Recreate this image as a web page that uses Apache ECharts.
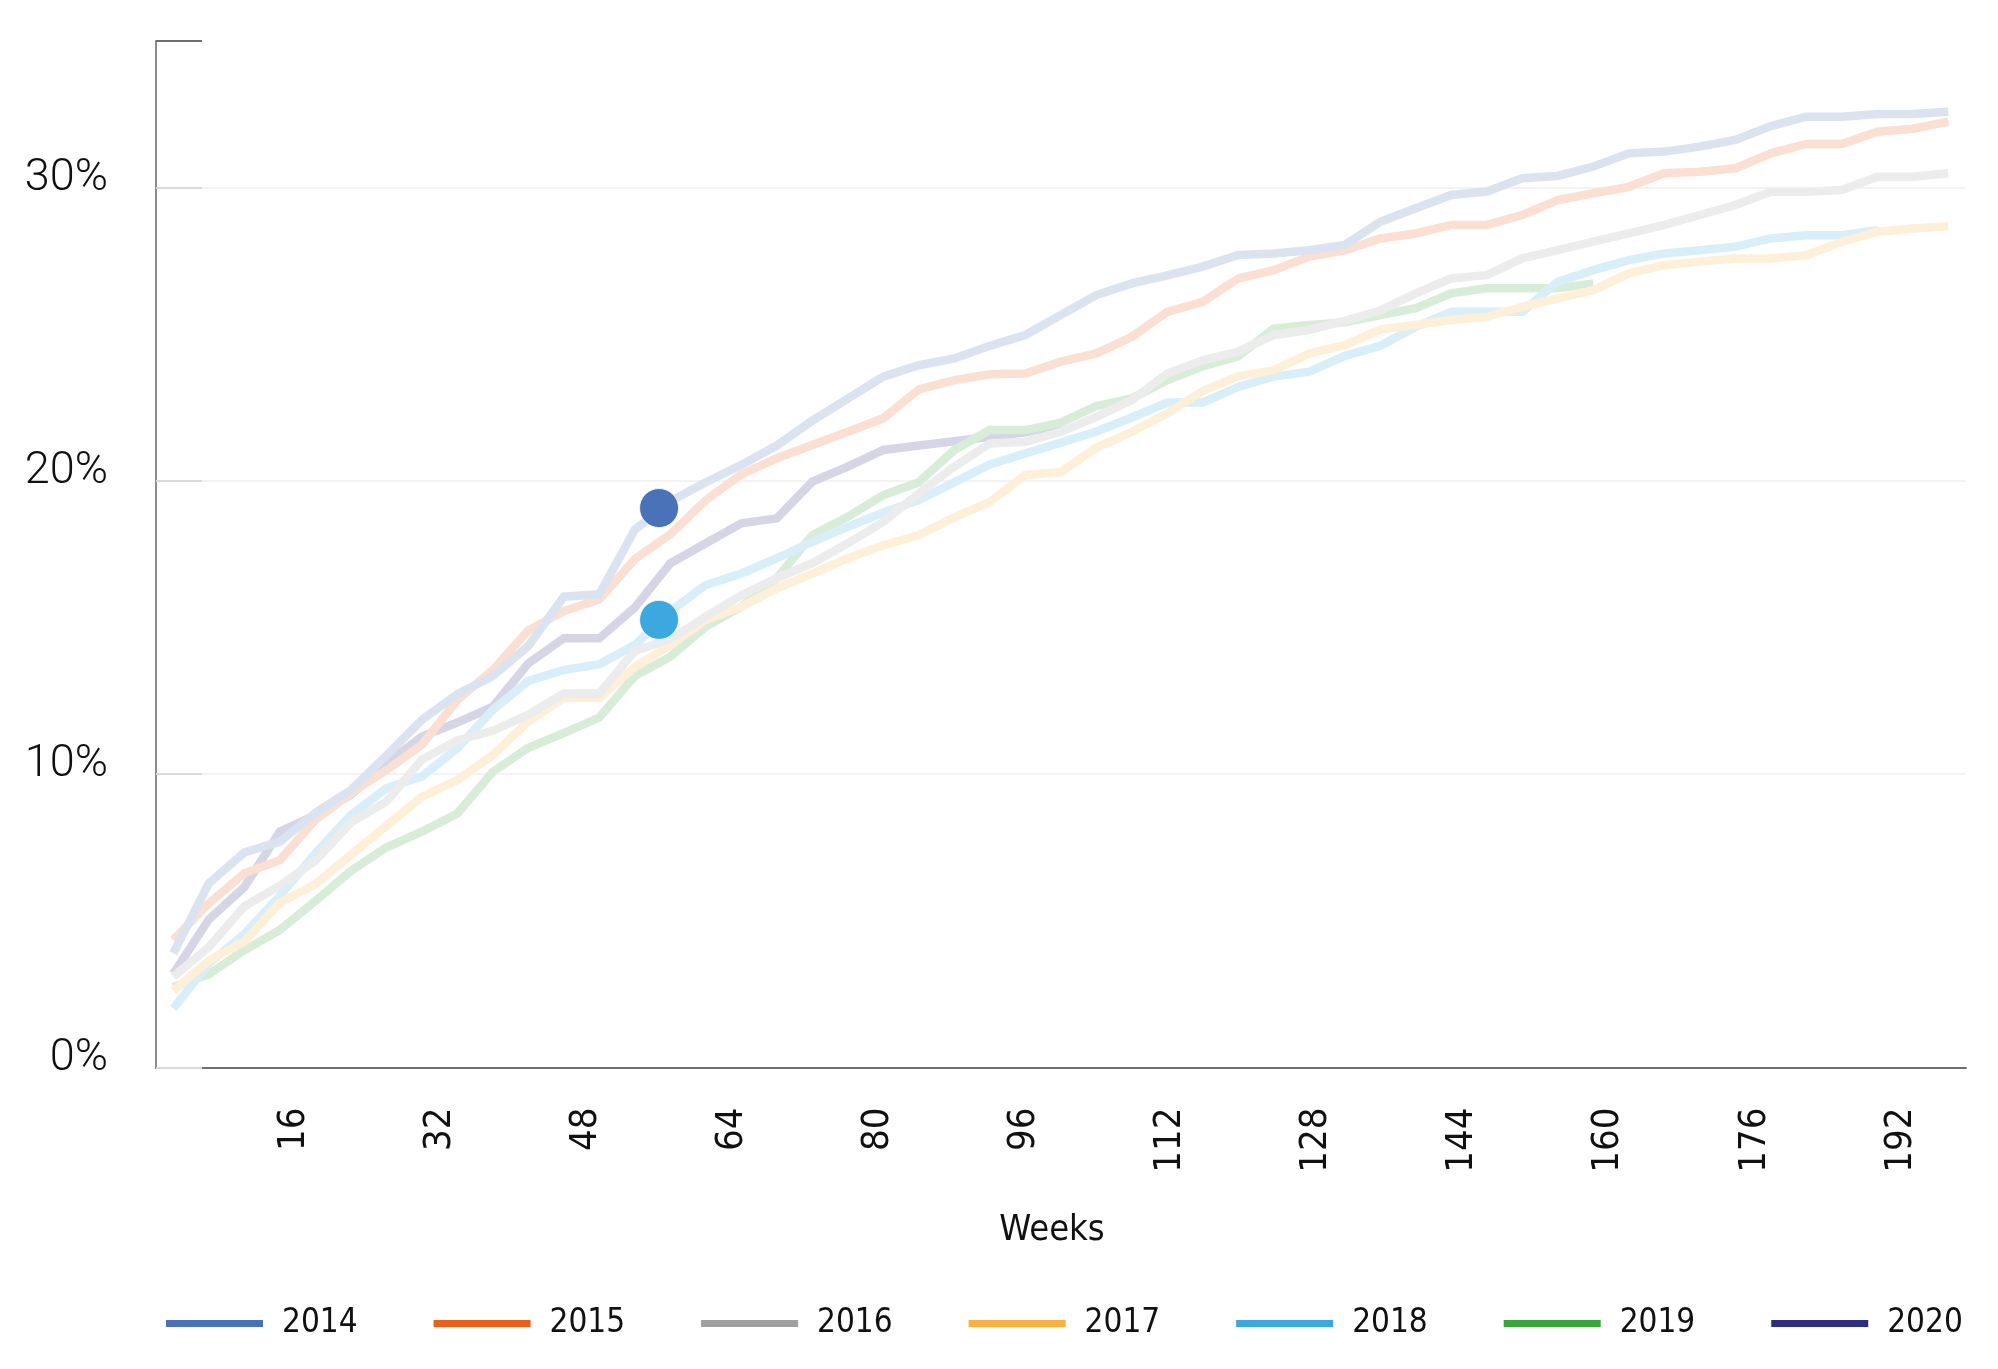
<!DOCTYPE html>
<html>
<head>
<meta charset="utf-8">
<script src="https://cdn.jsdelivr.net/npm/echarts@6/dist/echarts.min.js"></script>
<style>
html,body{margin:0;padding:0;background:#ffffff;}
#chart{width:1998px;height:1369px;}
</style>
</head>
<body>
<div id="chart"></div>
<script>
// ---------- data ----------
const years = ['2014', '2015', '2016', '2017', '2018', '2019', '2020'];
const periods = Array.from({ length: 51 }, (_, i) => String(i + 1));
const weekTicks = [16, 32, 48, 64, 80, 96, 112, 128, 144, 160, 176, 192];
const yTicks = [0, 10, 20, 30];

const s2014 = [3.9, 6.28, 7.33, 7.7, 8.68, 9.46, 10.63, 11.85, 12.73, 13.35, 14.37, 16.05, 16.13, 18.33, 19.3, 19.95, 20.54, 21.2, 22.05, 22.8, 23.55, 23.94, 24.17, 24.6, 24.97, 25.65, 26.33, 26.73, 27.0, 27.3, 27.7, 27.75, 27.86, 28.04, 28.83, 29.29, 29.74, 29.86, 30.31, 30.39, 30.71, 31.16, 31.22, 31.39, 31.62, 32.09, 32.41, 32.41, 32.5, 32.5, 32.58];
const s2015 = [4.35, 5.6, 6.62, 7.07, 8.44, 9.35, 10.14, 11.0, 12.53, 13.55, 14.9, 15.56, 15.96, 17.33, 18.18, 19.34, 20.22, 20.77, 21.22, 21.67, 22.13, 23.12, 23.43, 23.63, 23.66, 24.06, 24.34, 24.91, 25.76, 26.1, 26.9, 27.18, 27.64, 27.85, 28.26, 28.43, 28.72, 28.72, 29.06, 29.57, 29.8, 30.02, 30.48, 30.53, 30.65, 31.16, 31.48, 31.48, 31.9, 32.0, 32.24];
const s2016 = [3.1, 4.1, 5.5, 6.2, 7.05, 8.35, 9.06, 10.5, 11.15, 11.48, 12.03, 12.75, 12.75, 14.2, 14.6, 15.37, 16.1, 16.68, 17.19, 17.87, 18.6, 19.57, 20.48, 21.27, 21.33, 21.67, 22.18, 22.75, 23.66, 24.11, 24.4, 24.97, 25.14, 25.45, 25.8, 26.39, 26.9, 27.01, 27.58, 27.86, 28.15, 28.43, 28.72, 29.06, 29.4, 29.85, 29.85, 29.91, 30.36, 30.36, 30.48];
const s2017 = [2.62, 3.65, 4.3, 5.62, 6.25, 7.25, 8.24, 9.23, 9.8, 10.65, 11.8, 12.6, 12.6, 13.66, 14.4, 15.26, 15.71, 16.33, 16.84, 17.36, 17.8, 18.15, 18.75, 19.28, 20.2, 20.3, 21.13, 21.67, 22.3, 23.06, 23.57, 23.77, 24.34, 24.62, 25.16, 25.31, 25.48, 25.59, 25.93, 26.22, 26.5, 27.07, 27.35, 27.47, 27.58, 27.58, 27.69, 28.15, 28.49, 28.6, 28.68];
const s2018 = [2.02, 3.55, 4.55, 5.85, 7.3, 8.6, 9.52, 9.92, 10.88, 12.19, 13.18, 13.55, 13.75, 14.4, 15.55, 16.45, 16.84, 17.36, 17.92, 18.43, 18.92, 19.34, 19.95, 20.56, 20.93, 21.3, 21.68, 22.16, 22.67, 22.67, 23.2, 23.55, 23.72, 24.26, 24.6, 25.25, 25.76, 25.76, 25.76, 26.78, 27.18, 27.52, 27.75, 27.86, 27.98, 28.26, 28.37, 28.37, 28.54];
const s2019 = [2.75, 3.18, 4.0, 4.69, 5.68, 6.7, 7.5, 8.04, 8.66, 10.08, 10.9, 11.4, 11.93, 13.35, 14.0, 15.03, 15.71, 16.68, 18.15, 18.77, 19.51, 19.95, 21.05, 21.73, 21.73, 21.98, 22.55, 22.81, 23.43, 23.9, 24.25, 25.19, 25.31, 25.4, 25.65, 25.88, 26.39, 26.56, 26.56, 26.56, 26.73];
const s2020 = [3.2, 5.05, 6.15, 8.04, 8.6, 9.3, 10.37, 11.28, 11.76, 12.3, 13.78, 14.63, 14.63, 15.68, 17.19, 17.87, 18.55, 18.72, 19.97, 20.48, 21.05, 21.2, 21.35, 21.5, 21.65, 21.9];

const highlightWeek = 56;
const highlight2014 = 19.07;
const highlight2018 = 15.26;

// ---------- styles ----------
const legendColors = ['#4a72b8', '#e8601c', '#a0a0a0', '#f8b13f', '#3ba9e0', '#3aa63a', '#2e2d80'];
const lineColors = ['#dbe3f1', '#fadfd2', '#ececec', '#feefd9', '#d8eef9', '#d8edd8', '#d5d5e6'];
const allSeries = [s2014, s2015, s2016, s2017, s2018, s2019, s2020];
const narrow = "'Liberation Sans Narrow', 'DejaVu Sans Condensed', 'Liberation Sans', sans-serif";

const chart = echarts.init(document.getElementById('chart'), null, { renderer: 'canvas' });

const lineSeries = years.map((y, i) => ({
  type: 'line',
  name: y,
  xAxisIndex: 0,
  yAxisIndex: 0,
  data: allSeries[i],
  symbol: 'none',
  silent: true,
  z: 10 - i,
  itemStyle: { color: legendColors[i] },
  lineStyle: { color: lineColors[i], width: 8.5, cap: 'butt', join: 'miter' }
}));

const option = {
  animation: false,
  backgroundColor: '#ffffff',
  grid: [
    { left: 173.3, right: 49.7, top: 40.7, bottom: 301.4 },
    { left: 156, right: 32, top: 40.7, bottom: 301.4 }
  ],
  xAxis: [
    { gridIndex: 0, type: 'category', data: periods, boundaryGap: false, show: false },
    {
      gridIndex: 1, type: 'value', min: 0.9, max: 199.15,
      axisLine: { show: true, lineStyle: { color: '#6e6e6e', width: 2 } },
      axisTick: { show: false },
      splitLine: { show: false },
      axisLabel: {
        customValues: weekTicks,
        rotate: 90, margin: 40, fontSize: 38, color: '#111', fontFamily: narrow
      },
      name: 'Weeks', nameLocation: 'middle', nameGap: 145,
      nameTextStyle: { fontSize: 36, color: '#111', fontFamily: narrow, padding: [0, 18, 0, 0] }
    }
  ],
  yAxis: [
    { gridIndex: 0, type: 'value', min: 0, max: 35, show: false },
    {
      gridIndex: 1, type: 'value', min: 0, max: 35, interval: 10, position: 'left',
      axisLine: { show: true, lineStyle: { color: '#666', width: 1.5 } },
      axisTick: { show: true, inside: true, length: 46, customValues: yTicks, lineStyle: { color: '#dadada', width: 2 } },
      axisLabel: {
        customValues: yTicks,
        formatter: '{value}%', fontSize: 45, fontWeight: 300, fontFamily: 'Roboto, sans-serif',
        color: '#111', margin: 48, verticalAlign: 'bottom', lineHeight: 18
      },
      splitLine: { show: true, lineStyle: { color: ['#f3f3f3', '#f3f3f3', '#f3f3f3', '#f3f3f3', 'rgba(0,0,0,0)'], width: 2 } }
    },
    {
      gridIndex: 1, type: 'value', min: 0, max: 35, position: 'left', offset: 0,
      axisLine: { show: false },
      axisTick: { show: true, inside: true, length: 46, customValues: [35], lineStyle: { color: '#6e6e6e', width: 2 } },
      axisLabel: { show: false },
      splitLine: { show: false }
    }
  ],
  legend: {
    left: 161, top: 1302,
    icon: 'rect', itemWidth: 97, itemHeight: 7, itemGap: 76,
    data: years.map((y, i) => ({ name: y, itemStyle: { color: legendColors[i] } })),
    textStyle: { fontSize: 33, color: '#111', fontFamily: narrow, padding: [0, 0, 0, 14] }
  },
  series: lineSeries.concat([
    {
      type: 'scatter', name: 'hl2014', xAxisIndex: 1, yAxisIndex: 1,
      data: [[highlightWeek, highlight2014]], symbolSize: 39, z: 30, silent: true,
      itemStyle: { color: legendColors[0], borderColor: 'rgba(255,255,255,0.8)', borderWidth: 1, opacity: 1 }
    },
    {
      type: 'scatter', name: 'hl2018', xAxisIndex: 1, yAxisIndex: 1,
      data: [[highlightWeek, highlight2018]], symbolSize: 39, z: 30, silent: true,
      itemStyle: { color: legendColors[4], borderColor: 'rgba(255,255,255,0.8)', borderWidth: 1, opacity: 1 }
    }
  ])
};

chart.setOption(option);
</script>
</body>
</html>
